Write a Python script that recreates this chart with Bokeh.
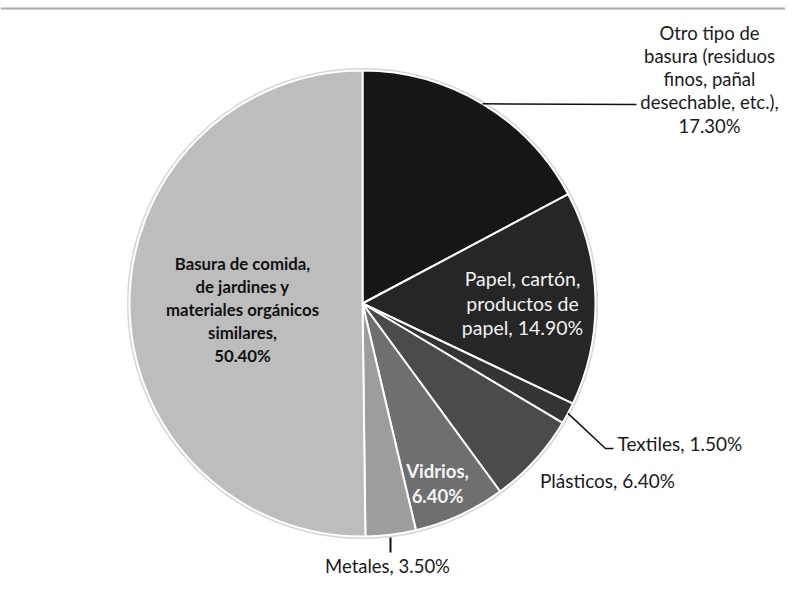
import math
from bokeh.plotting import figure
from bokeh.models import ColumnDataSource, Span
from bokeh.core.properties import value
from bokeh.embed import file_html
from bokeh.resources import INLINE

# ---- data ----
categories = [
    "Otro tipo de basura (residuos finos, pañal desechable, etc.)",
    "Papel, cartón, productos de papel",
    "Textiles",
    "Plásticos",
    "Vidrios",
    "Metales",
    "Basura de comida, de jardines y materiales orgánicos similares",
]
values = [17.3, 14.9, 1.5, 6.4, 6.4, 3.5, 50.4]
pct_labels = ["17.30%", "14.90%", "1.50%", "6.40%", "6.40%", "3.50%", "50.40%"]
colors = ["#161616", "#262626", "#343434", "#4b4b4b", "#6f6f6f", "#9d9d9d", "#bdbdbd"]

label_lines = [
    ["Otro tipo de", "basura (residuos", "finos, pañal", "desechable, etc.),", pct_labels[0]],
    ["Papel, cartón,", "productos de", "papel, " + pct_labels[1]],
    ["Textiles, " + pct_labels[2]],
    ["Plásticos, " + pct_labels[3]],
    ["Vidrios,", pct_labels[4]],
    ["Metales, " + pct_labels[5]],
    ["Basura de comida,", "de jardines y", "materiales orgánicos", "similares,", pct_labels[6]],
]

# ---- layout (picture pixel coordinates) ----
W, H = 785, 579
PCX, PCY, R = 362, 303, 233


def dx(x):
    return x


def dy(y):
    return H - y


# label styles: (x, first line y, spacing, align, color, weight, size)
label_styles = [
    (709, 32, 23.3, "center", "#1a1a1a", "normal", "18.5px"),
    (522, 278, 24.5, "center", "#f2f2f2", "normal", "19.5px"),
    (617, 443, 0, "left", "#1a1a1a", "normal", "19px"),
    (607, 480, 0, "center", "#1a1a1a", "normal", "19px"),
    (437, 470, 25, "center", "#f5f5f5", "bold", "18.5px"),
    (387, 565, 0, "center", "#1a1a1a", "normal", "18.5px"),
    (242, 263, 23, "center", "#111111", "bold", "16.8px"),
]

p = figure(width=W, height=H, x_range=(0, W), y_range=(0, H),
           min_border=0, outline_line_color=None, toolbar_location=None,
           output_backend="svg")
p.axis.visible = False
p.grid.visible = False
p.background_fill_color = "white"

# top rule
p.add_layout(Span(location=H - 8, dimension="width", line_color="#a8a8a8", line_width=2))

total = sum(values)
starts, ends, mids = [], [], []
a = math.pi / 2
for v in values:
    starts.append(a)
    b = a - v / total * 2 * math.pi
    ends.append(b)
    mids.append((a + b) / 2)
    a = b

src = ColumnDataSource(dict(start=starts, end=ends, color=colors, cat=categories))
# soft outer rim
p.circle(x=[dx(PCX)], y=[dy(PCY)], radius=R + 1.5, fill_color=None,
         line_color="#d6d6d6", line_width=2)
p.wedge(x=dx(PCX), y=dy(PCY), radius=R, start_angle="start", end_angle="end",
        direction="clock", fill_color="color", line_color="white", line_width=2,
        source=src)


def rim(i):
    m = mids[i]
    return dx(PCX) + R * math.cos(m), dy(PCY) + R * math.sin(m)


# leader lines (start at slice mid-angle on the rim)
x0, y0 = rim(0)
p.line([x0, dx(636)], [y0, dy(104)], line_color="#111111", line_width=1.5)
x2, y2 = rim(2)
p.line([x2, dx(605), dx(613)], [y2, dy(448), dy(448)], line_color="#111111", line_width=1.5)
p.line([dx(390), dx(390)], [dy(537), dy(552)], line_color="#111111", line_width=2)

for lines, (lx, ly, sp, al, col, wt, sz) in zip(label_lines, label_styles):
    xs = [dx(lx)] * len(lines)
    ys = [dy(ly + k * sp) for k in range(len(lines))]
    p.text(x=xs, y=ys, text=lines, text_align=al, text_baseline="middle",
           text_color=col, text_font=value("Lato"), text_font_style=wt,
           text_font_size=sz)

open("out.html", "w").write(file_html(p, INLINE))
